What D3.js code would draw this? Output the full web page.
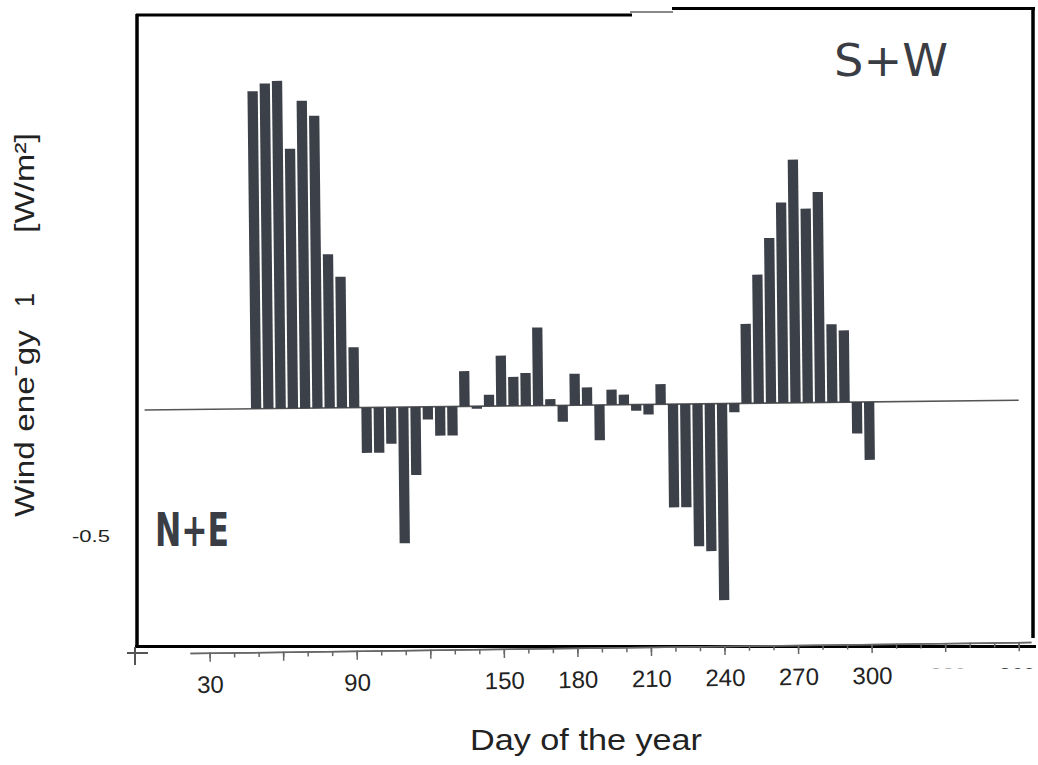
<!DOCTYPE html>
<html>
<head>
<meta charset="utf-8">
<script src="https://d3js.org/d3.v7.min.js"></script>
<style>
body { margin: 0; background: #fff; }
svg { display: block; }
</style>
</head>
<body>
<div id="chart"></div>
<script>
// pentad centre days
var days = [49, 54, 59, 64, 69, 74, 79, 84, 89, 94, 99, 104, 109, 114, 119, 124, 129,
	134, 139, 144, 149, 154, 159, 164, 169, 174, 179, 184, 189, 194, 199, 204, 209,
	214, 219, 224, 229, 234, 239, 244, 249, 254, 259, 264, 269, 274, 279, 284, 289, 294, 299];
// wind energy, positive = S+W, negative = N+E
var energy = [1.26, 1.29, 1.30, 1.03, 1.22, 1.16, 0.61, 0.52, 0.24,
	-0.18, -0.18, -0.145, -0.54, -0.27, -0.05, -0.115, -0.115,
	0.14, -0.01, 0.045, 0.20, 0.115, 0.13, 0.31, 0.025, -0.065, 0.125, 0.07, -0.14, 0.06, 0.04, -0.025, -0.04, 0.08,
	-0.41, -0.41, -0.565, -0.585, -0.78, -0.035,
	0.315, 0.51, 0.655, 0.795, 0.965, 0.77, 0.835, 0.31, 0.285,
	-0.125, -0.23];
var minorTicks = [30, 40, 50, 60, 70, 80, 90, 100, 110, 120, 130, 140, 150, 160, 170, 180,
	190, 200, 210, 220, 230, 240, 250, 260, 270, 280, 290, 300, 310, 320, 330, 340, 350, 360];
var majorTicks = [30, 60, 90, 120, 150, 180, 210, 240, 270, 300, 330, 360];
var tickLabels = [30, 90, 150, 180, 210, 240, 270, 300];
var fadedLabels = [330, 360];
var yLabels = [-0.5];

var width = 1038, height = 765;
var svg = d3.select("#chart").append("svg")
	.attr("width", width)
	.attr("height", height);

var x = d3.scaleLinear()
	.domain([0, 365])
	.range([136, 1031]);
var y = d3.scaleLinear()
	.domain([-0.95, 1.55])
	.range([649.4, 19.4]);
var barW = x(4.2) - x(0);
var font = "Liberation Sans, Arial, sans-serif";

// frame (scanned, slightly broken top edge)
var frame = svg.append("g").attr("stroke", "#000").attr("fill", "none");
frame.append("line").attr("x1", 137).attr("y1", 14).attr("x2", 137).attr("y2", 648).attr("stroke-width", 3.5);
frame.append("line").attr("x1", 136).attr("y1", 15).attr("x2", 632).attr("y2", 15).attr("stroke-width", 3);
frame.append("line").attr("x1", 630).attr("y1", 12).attr("x2", 673).attr("y2", 12).attr("stroke-width", 2).attr("stroke", "#888");
frame.append("line").attr("x1", 672).attr("y1", 8.5).attr("x2", 1035).attr("y2", 8.5).attr("stroke-width", 3);
frame.append("line").attr("x1", 1033).attr("y1", 7).attr("x2", 1033).attr("y2", 638).attr("stroke-width", 3.5);
frame.append("line").attr("x1", 135).attr("y1", 646.5).attr("x2", 1036).attr("y2", 646.5).attr("stroke-width", 3);

// bars + zero line, tilted like the scan
var plot = svg.append("g")
	.attr("transform", "rotate(-0.64 145 410)");
plot.append("line")
	.attr("x1", x(3.5))
	.attr("x2", x(360))
	.attr("y1", y(0))
	.attr("y2", y(0))
	.attr("stroke", "#555")
	.attr("stroke-width", 1.6);
plot.selectAll(".bar")
	.data(days)
	.enter()
	.append("rect")
	.attr("class", "bar")
	.attr("x", function(d) { return x(d) - barW / 2; })
	.attr("width", barW)
	.attr("y", function(d, i) { return y(Math.max(0, energy[i])); })
	.attr("height", function(d, i) { return Math.abs(y(energy[i]) - y(0)); })
	.attr("fill", "#3c4048");

// bottom axis, also tilted
var xa = x.copy().domain([22, 365]).range([x(22), x(365)]);
var axisG = svg.append("g")
	.attr("transform", "translate(0,653) rotate(-0.75 190 0)");
var minorAxis = d3.axisBottom(xa)
	.tickValues(minorTicks)
	.tickSize(5)
	.tickSizeOuter(0)
	.tickFormat("");
var majorAxis = d3.axisBottom(xa)
	.tickValues(majorTicks)
	.tickSize(9)
	.tickSizeOuter(0)
	.tickPadding(14)
	.tickFormat(function(d) { return tickLabels.indexOf(d) >= 0 ? d : ""; });
axisG.append("g").call(minorAxis);
axisG.append("g").call(majorAxis);
axisG.selectAll("path, line")
	.attr("stroke", "#666")
	.attr("stroke-width", 1.5);
axisG.selectAll("text")
	.attr("fill", "#222")
	.style("font-family", font)
	.style("font-size", "24px");

// labels cut off by the scan edge
svg.append("clipPath")
	.attr("id", "cut")
	.append("rect")
	.attr("x", 900).attr("y", 660).attr("width", 138).attr("height", 9);
svg.append("g")
	.attr("clip-path", "url(#cut)")
	.selectAll("text")
	.data(fadedLabels)
	.enter()
	.append("text")
	.attr("x", function(d) { return Math.min(x(d) + 3, 1017); })
	.attr("y", 683)
	.attr("text-anchor", "middle")
	.attr("fill", function(d, i) { return i == 0 ? "#aaa" : "#444"; })
	.style("font-family", font)
	.style("font-size", "22px")
	.text(function(d) { return d; });

// scan mark at axis origin
svg.append("line").attr("x1", 127).attr("x2", 148).attr("y1", 653).attr("y2", 653).attr("stroke", "#555").attr("stroke-width", 2);
svg.append("line").attr("x1", 135).attr("x2", 135).attr("y1", 647).attr("y2", 665).attr("stroke", "#555").attr("stroke-width", 2);

// y tick label
svg.selectAll(".ylab")
	.data(yLabels)
	.enter()
	.append("text")
	.attr("class", "ylab")
	.attr("x", 72)
	.attr("y", function(d) { return y(d); })
	.attr("dy", ".36em")
	.attr("textLength", 38)
	.attr("lengthAdjust", "spacingAndGlyphs")
	.attr("fill", "#222")
	.style("font-family", font)
	.style("font-size", "17px")
	.text(function(d) { return d; });

// axis titles
svg.append("text")
	.attr("x", 586)
	.attr("y", 750)
	.attr("text-anchor", "middle")
	.attr("textLength", 232)
	.attr("lengthAdjust", "spacingAndGlyphs")
	.attr("fill", "#222")
	.style("font-family", font)
	.style("font-size", "30px")
	.text("Day of the year");
var ytitle = [
	{ t: "Wind ene\u02C9gy", at: 517, len: 187 },
	{ t: "1", at: 307, len: 14 },
	{ t: "[W/m\u00B2]", at: 233, len: 100 }
];
svg.selectAll(".ytitle")
	.data(ytitle)
	.enter()
	.append("text")
	.attr("class", "ytitle")
	.attr("transform", function(d) { return "translate(34," + d.at + ") rotate(-90)"; })
	.attr("textLength", function(d) { return d.len; })
	.attr("lengthAdjust", "spacingAndGlyphs")
	.attr("fill", "#222")
	.style("font-family", font)
	.style("font-size", "28px")
	.text(function(d) { return d.t; });

// handwritten notes
svg.append("text")
	.attr("x", 834)
	.attr("y", 76)
	.attr("textLength", 114)
	.attr("lengthAdjust", "spacingAndGlyphs")
	.attr("fill", "#3a3d44")
	.style("font-family", "DejaVu Sans, sans-serif")
	.style("font-size", "44px")
	.text("S+W");
svg.append("text")
	.attr("x", 155)
	.attr("y", 546)
	.attr("textLength", 74)
	.attr("lengthAdjust", "spacingAndGlyphs")
	.attr("fill", "#3a3d44")
	.style("font-family", "DejaVu Sans, sans-serif")
	.style("font-size", "46px")
	.style("font-weight", "bold")
	.text("N+E");
</script>
</body>
</html>
